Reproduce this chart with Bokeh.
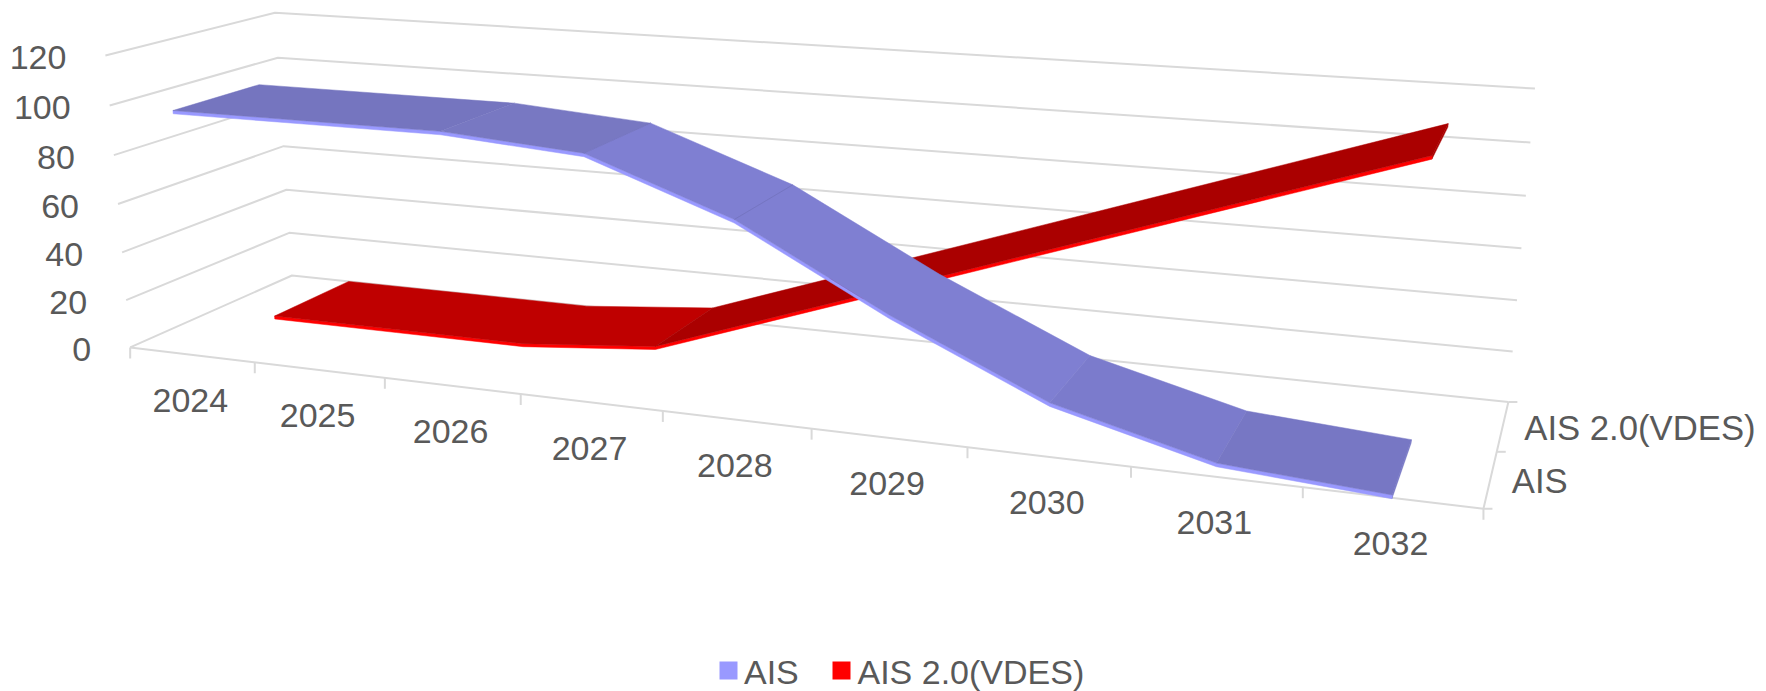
import numpy as np
from bokeh.plotting import figure
from bokeh.models import Range1d
from bokeh.core.properties import value
from bokeh.embed import file_html
from bokeh.resources import INLINE

# ---- data -------------------------------------------------------------
years = ["2024", "2025", "2026", "2027", "2028", "2029", "2030", "2031", "2032"]
ais = [100, 100, 100, 96, 76, 46, 20, 5, 1]
vdes = [0, 0, 0, 5, 25, 45, 65, 85, 105]
value_ticks = [0, 20, 40, 60, 80, 100, 120]
series_names = ["AIS", "AIS 2.0(VDES)"]

# ---- camera of the 3-D box: world (category, value, depth) -> page pixels
calib = [
    ((0, 0, 0), (129.4, 347.0)), ((0, 120, 0), (105.2, 55.3)),
    ((0, 60, 0), (117.1, 203.3)), ((0, 0, 2), (292.0, 274.7)),
    ((0, 120, 2), (274.8, 12.0)), ((0, 60, 2), (282.4, 145.7)),
    ((9, 0, 2), (1507.8, 402.0)), ((9, 120, 2), (1534.5, 88.0)),
    ((9, 60, 2), (1520.8, 248.0)), ((9, 0, 0), (1483.6, 507.7)),
    ((1, 0, 0), (254.0, 362.7)), ((2, 0, 0), (385.0, 377.7)),
    ((3, 0, 0), (520.8, 393.3)), ((4, 0, 0), (662.0, 409.3)),
    ((5, 0, 0), (811.6, 428.3)), ((6, 0, 0), (966.6, 446.0)),
    ((7, 0, 0), (1129.3, 466.0)), ((8, 0, 0), (1302.6, 487.7)),
]
A = []
for (u, v, w), (x, y) in calib:
    X = [u / 9, v / 120, w / 2, 1]
    x, y = x / 1000, y / 1000
    A.append(X + [0, 0, 0, 0] + [-x * c for c in X])
    A.append([0, 0, 0, 0] + X + [-y * c for c in X])
P = np.linalg.svd(np.array(A))[2][-1].reshape(3, 4)


def proj(u, v, w):
    h = P @ np.array([u / 9, v / 120, w / 2, 1])
    return float(h[0] / h[2] * 1000), float(h[1] / h[2] * 1000)


def poly(points):
    pts = [proj(*p) for p in points]
    return [a for a, _ in pts], [b for _, b in pts]


p = figure(width=1766, height=691, x_range=Range1d(0, 1766), y_range=Range1d(691, 0),
           output_backend="svg", toolbar_location=None, min_border=0)
p.axis.visible = False
p.grid.visible = False
p.outline_line_color = None
p.background_fill_color = "white"

GRID = "#D9D9D9"
TXT = "#595959"
FONT = value("Liberation Sans")
SIZE = value("34px")

# ---- walls, floor and ticks
xs, ys = [], []
for t in value_ticks:
    a, b = poly([(0, t, 0), (0, t, 2), (9, t, 2)])
    xs.append(a); ys.append(b)
a, b = poly([(0, 0, 0), (9, 0, 0), (9, 0, 2)])
xs.append(a); ys.append(b)
for i in range(10):
    x, y = proj(i, 0, 0)
    xs.append([x, x]); ys.append([y, y + 11])
for d in (0, 1, 2):
    x, y = proj(9, 0, d)
    xs.append([x, x + 9]); ys.append([y, y])
p.multi_line(xs, ys, line_color=GRID, line_width=2)


# ---- ribbons: one polygon per run of equally lit segments
def ribbon(vals, w0, w1, thick, tops, edge, cap, seam, seam_at):
    n = len(vals)
    us = [i + 0.5 for i in range(n)]
    ex, ey = poly([(u, c, w0) for u, c in zip(us, vals)]
                  + [(u, c - thick, w0) for u, c in zip(us[::-1], vals[::-1])])
    a, b = poly([(us[-1], vals[-1], w0), (us[-1], vals[-1], w1),
                 (us[-1], vals[-1] - thick, w1), (us[-1], vals[-1] - thick, w0)])
    p.patches([a], [b], fill_color=cap, line_color=cap, line_width=0.5)
    p.patches([ex], [ey], fill_color=edge, line_color=edge, line_width=0.5)
    tx, ty, cols = [], [], []
    i = 0
    while i < n - 1:
        j = i + 1
        while j < n - 1 and tops[j] == tops[i]:
            j += 1
        r = list(range(i, j + 1))
        a, b = poly([(us[k], vals[k], w0) for k in r] + [(us[k], vals[k], w1) for k in r[::-1]])
        tx.append(a); ty.append(b); cols.append(tops[i])
        i = j
    p.patches(tx, ty, fill_color=cols, line_color=cols, line_width=0.5)
    sx, sy = [], []
    for k in seam_at:
        a, b = poly([(us[k], vals[k], w0), (us[k], vals[k], w1)])
        sx.append(a); sy.append(b)
    if sx:
        p.multi_line(sx, sy, line_color=seam, line_width=0.8)


ribbon(vdes, 1.0, 2.0, 1.3,
       ["#BF0000", "#BF0000", "#BF0000", "#AA0000", "#AA0000", "#AA0000", "#AA0000", "#AA0000"],
       "#FF0000", "#AA0000", "#AA0000", [])
ribbon(ais, 0.0, 1.0, 1.3,
       ["#7575BF", "#7575BF", "#7878C2", "#7F7FD2", "#7F7FD2", "#7F7FD2", "#7B7BCC", "#7777C4"],
       "#9999FF", "#7777C4", "#7272BC", [3, 4])

# ---- texts
tx, ty = [], []
for t in value_ticks:
    x, y = proj(0, t, 0)
    tx.append(x - 39); ty.append(y + 2)
p.text(tx, ty, text=[str(t) for t in value_ticks], text_align="right", text_baseline="middle",
       text_color=TXT, text_font=FONT, text_font_size=SIZE)

tx, ty = [], []
for i in range(len(years)):
    x, y = proj(i + 0.5, 0, 0)
    tx.append(x - 1.5); ty.append(y + 46)
p.text(tx, ty, text=years, text_align="center", text_baseline="middle",
       text_color=TXT, text_font=FONT, text_font_size=SIZE)

tx, ty = [], []
for i in range(len(series_names)):
    x, y = proj(9, 0, i + 0.5)
    tx.append(x + 21.5); ty.append(y + 1.5)
p.text(tx, ty, text=series_names, text_align="left", text_baseline="middle",
       text_color=TXT, text_font=FONT, text_font_size=value("34.7px"))

# ---- legend
p.quad(left=[719, 832], right=[737, 850], top=[661, 661], bottom=[679, 679],
       fill_color=["#9999FF", "#FF0000"], line_color=None)
p.text([743.5, 857], [671.5, 671.5], text=series_names, text_align="left", text_baseline="middle",
       text_color=TXT, text_font=FONT, text_font_size=SIZE)

open("out.html", "w").write(file_html(p, INLINE))
